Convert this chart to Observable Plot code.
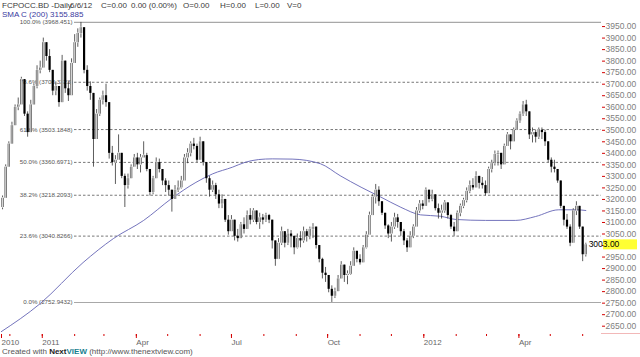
<!DOCTYPE html>
<html><head><meta charset="utf-8">
<script src="https://cdn.jsdelivr.net/npm/d3@7"></script>
<script src="https://cdn.jsdelivr.net/npm/@observablehq/plot@0.6"></script>
<style>
body{margin:0;background:#fff;}
#wrap{position:relative;width:640px;height:357px;overflow:hidden;font-family:"Liberation Sans",Arial,sans-serif;background:#fff;}
.t{position:absolute;white-space:pre;font-size:8px;line-height:10px;color:#3a3a3a;}
</style></head><body>
<div id="wrap">
<div id="chart" style="position:absolute;left:0;top:0"></div>
<div class="t" style="left:2px;top:1px">FCPOCC.BD -Daily</div>
<div class="t" style="left:70px;top:1px">6/6/12</div>
<div class="t" style="left:101px;top:1px">C=0.00</div>
<div class="t" style="left:131px;top:1px">0.00 (0.00%)</div>
<div class="t" style="left:183px;top:1px">O=0.00</div>
<div class="t" style="left:220px;top:1px">H=0.00</div>
<div class="t" style="left:255px;top:1px">L=0.00</div>
<div class="t" style="left:287px;top:1px">V=0</div>
<div class="t" style="left:2px;top:9.5px;color:#3a3aa0">SMA C (200) 3155.885</div>
<div style="position:absolute;left:601px;top:333px;width:39px;height:1px;background:#f2b8b8"></div>
<div class="t" style="left:2px;top:347px;font-size:8px;color:#555">Created with <b style="color:#222">Next</b><b style="color:#17808f">VIEW</b> (http://www.thenextview.com)</div>
</div>
<script>
// Candles sampled every 3 calendar days starting 2010-11-24
const startDate = "2010-11-24";
const firstOpen = 3165;
const closes = [
3205,3340,3440,3520,3600,3610,3720,3570,3490,3610,
3690,3760,3770,3880,3820,3760,3670,3690,3620,3800,
3680,3650,3790,3880,3920,3945,3760,3690,3660,3460,
3570,3630,3650,3620,3400,3360,3370,3400,3300,3260,
3290,3340,3380,3350,3380,3390,3330,3230,3290,3360,
3330,3280,3260,3240,3200,3240,3250,3280,3380,3400,
3440,3430,3370,3450,3360,3290,3240,3260,3220,3180,
3200,3110,3060,3110,3040,3030,3090,3070,3130,3110,
3150,3100,3120,3110,3130,3110,3020,2940,3010,3060,
3010,3050,3040,2990,3030,3020,3060,3040,3070,3080,
3000,2940,2880,2870,2810,2780,2800,2855,2915,2870,
2875,2910,2975,2940,2925,2990,3045,3130,3210,3240,
3190,3140,3085,3050,3080,3120,3100,3060,3020,2990,
3040,3080,3150,3180,3170,3240,3200,3220,3160,3140,
3150,3185,3130,3080,3060,3140,3170,3195,3235,3260,
3250,3300,3270,3260,3225,3330,3355,3395,3400,3350,
3430,3480,3450,3500,3540,3570,3610,3580,3480,3490,
3470,3500,3490,3450,3370,3340,3330,3280,3170,3110,
3080,3010,3150,3170,3080,2960,3003];
const highs = [
3215,3350,3450,3535,3610,3640,3730,3700,3580,3630,
3700,3780,3800,3900,3880,3850,3760,3710,3690,3825,
3730,3710,3810,3915,3940,3968,3945,3780,3710,3660,
3590,3640,3670,3700,3620,3430,3390,3480,3390,3310,
3310,3350,3395,3400,3395,3450,3400,3320,3300,3380,
3375,3320,3290,3280,3225,3260,3280,3300,3395,3420,
3450,3465,3440,3470,3440,3360,3300,3280,3270,3240,
3220,3150,3130,3130,3085,3070,3100,3120,3150,3160,
3160,3140,3140,3135,3140,3135,3080,3020,3030,3080,
3060,3070,3065,3030,3050,3060,3080,3070,3080,3095,
3070,3000,2945,2905,2860,2825,2815,2870,2930,2905,
2890,2930,2990,2960,2960,3000,3060,3145,3220,3265,
3255,3190,3140,3090,3100,3140,3135,3100,3070,3030,
3060,3090,3165,3195,3195,3250,3240,3240,3210,3180,
3175,3195,3170,3135,3100,3150,3180,3205,3250,3280,
3290,3320,3295,3295,3280,3340,3370,3410,3410,3400,
3440,3490,3475,3510,3550,3580,3625,3630,3580,3510,
3500,3510,3510,3500,3440,3380,3370,3320,3250,3160,
3135,3090,3160,3190,3170,3060,3010];
const lows = [
3155,3262,3380,3480,3555,3585,3660,3560,3470,3540,
3620,3680,3745,3830,3800,3750,3650,3650,3600,3630,
3660,3625,3650,3790,3860,3900,3745,3670,3630,3340,
3480,3560,3610,3600,3375,3345,3265,3380,3290,3165,
3245,3290,3350,3330,3315,3380,3320,3215,3220,3310,
3315,3260,3230,3215,3145,3210,3230,3245,3290,3355,
3385,3415,3360,3370,3345,3270,3210,3230,3200,3160,
3160,3100,3045,3070,3020,3015,3030,3050,3080,3090,
3100,3090,3070,3090,3100,3095,2985,2910,2960,3000,
2990,3000,2990,2960,2985,2990,3010,3015,3025,3030,
2985,2925,2855,2840,2795,2753,2770,2820,2855,2840,
2830,2870,2915,2925,2915,2940,2985,3070,3140,3180,
3170,3130,3070,3030,3015,3070,3075,3040,3000,2970,
2995,3030,3100,3140,3155,3200,3185,3190,3150,3115,
3115,3140,3115,3070,3040,3095,3125,3160,3185,3225,
3240,3260,3245,3245,3215,3270,3315,3345,3345,3330,
3370,3430,3415,3460,3500,3530,3560,3560,3460,3445,
3445,3460,3460,3430,3360,3315,3315,3270,3160,3085,
3070,2995,3070,3130,3070,2930,2950];

// SMA(200)
const smaDates = ["2010-11-22","2010-12-30","2011-02-09","2011-03-10","2011-04-08","2011-05-05","2011-05-28","2011-06-13","2011-07-02","2011-07-14","2011-07-27","2011-08-09","2011-08-28","2011-09-24","2011-10-13","2011-11-02","2011-11-21","2011-12-10","2011-12-29","2012-01-17","2012-02-01","2012-02-29","2012-03-29","2012-04-17","2012-05-09","2012-05-26","2012-06-04"];
const smaValues = [2624,2748,2926,3030,3109,3205,3274,3311,3340,3361,3373,3376,3375,3355,3303,3253,3210,3166,3133,3127,3113,3109,3109,3126,3155,3155,3152];

// Fibonacci retracement levels
const fibPct = ["100.0%","78.6%","61.8%","50.0%","38.2%","23.6%","0.0%"];
const fibValue = [3968.451,3708.3323,3503.1848,3360.6971,3218.2093,3040.8266,2752.9432];
const fibSolid = [true,false,false,false,false,false,true];

// Axis ticks
const yTicks = d3.range(2650, 3951, 50);
const xTickDates = ["2010-11-23","2011-01-01","2011-04-01","2011-07-01","2011-10-01","2012-01-01","2012-04-01"];
const xTickLabels = ["2010","2011","Apr","Jul","Oct","2012","Apr"];
const lastPrice = 3003;

const start = new Date(startDate);
const candles = closes.map((c, i) => {
  const o = i === 0 ? firstOpen : closes[i - 1];
  return {date: d3.utcDay.offset(start, 3 * i), open: o, close: c,
          high: Math.max(highs[i], o, c), low: Math.min(lows[i], o, c)};
});
const up = candles.filter(d => d.close >= d.open);
const down = candles.filter(d => d.close < d.open);
const sma = smaDates.map((d, i) => ({date: new Date(d), value: smaValues[i]}));
const fibs = fibPct.map((p, i) => ({value: fibValue[i], text: `${p} (${fibValue[i]})`, solid: fibSolid[i]}));
const xTicks = xTickDates.map(d => new Date(d));
const xLab = new Map(xTicks.map((d, i) => [+d, xTickLabels[i]]));
const minor = d3.utcMonth.range(new Date("2010-12-01"), new Date("2012-06-02"));

const red = "#d40000";
const chart = Plot.plot({
  width: 640, height: 346,
  marginLeft: 1, marginRight: 39, marginTop: 18, marginBottom: 12,
  style: {fontFamily: "Liberation Sans, Arial, sans-serif", background: "transparent", overflow: "visible"},
  x: {type: "utc", domain: [new Date("2010-11-23"), new Date("2012-06-19")]},
  y: {domain: [2614, 3985]},
  marks: [
    Plot.ruleY(fibs.filter(d => d.solid), {y: "value", stroke: "#a8a8a8", strokeWidth: 1.2, insetLeft: 73}),
    Plot.ruleY(fibs.filter(d => !d.solid), {y: "value", stroke: "#555", strokeWidth: 0.8, strokeDasharray: "2.5,2", insetLeft: 73}),
    Plot.text(fibs, {y: "value", text: "text", frameAnchor: "left", dx: 71, textAnchor: "end", fontSize: 6.2, fill: "#555"}),
    Plot.line(sma, {x: "date", y: "value", stroke: "#6464b4", strokeWidth: 0.9, curve: "monotone-x", clip: true}),
    Plot.ruleX(candles, {x: "date", y1: "low", y2: "high", stroke: "#333", strokeWidth: 0.8}),
    Plot.ruleX(down, {x: "date", y1: "open", y2: "close", stroke: "#000", strokeWidth: 2.2}),
    Plot.ruleX(up, {x: "date", y1: "open", y2: "close", stroke: "#555", strokeWidth: 2.4}),
    Plot.ruleX(up, {x: "date", y1: "open", y2: "close", stroke: "#fff", strokeWidth: 0.8, insetTop: 0.7, insetBottom: 0.7}),
    Plot.axisY(yTicks, {anchor: "right", tickSize: 3, tickPadding: 1, tickFormat: d => d === 3000 ? "" : d.toFixed(2), stroke: red, fill: "#808080", fontSize: 8.5, line: true, label: null}),
    Plot.axisX(minor, {tickSize: 2, stroke: red, tickFormat: () => "", label: null}),
    Plot.axisX(xTicks, {tickSize: 4, stroke: red, fill: "#666", fontSize: 8, textAnchor: "start", tickPadding: 1, tickFormat: d => xLab.get(+d), line: true, label: null})
  ]
});
document.getElementById("chart").appendChild(chart);

// highlight last price on the right axis
const yPos = chart.scale("y").apply(lastPrice);
const svg = d3.select(chart);
svg.append("rect").attr("x", 603).attr("y", yPos - 5).attr("width", 34).attr("height", 10).attr("fill", "#ffff33");
svg.append("text").attr("x", 604).attr("y", yPos).attr("dy", "0.32em").attr("font-size", 8.5).attr("fill", "#000").text(lastPrice.toFixed(2));
</script>
</body></html>
